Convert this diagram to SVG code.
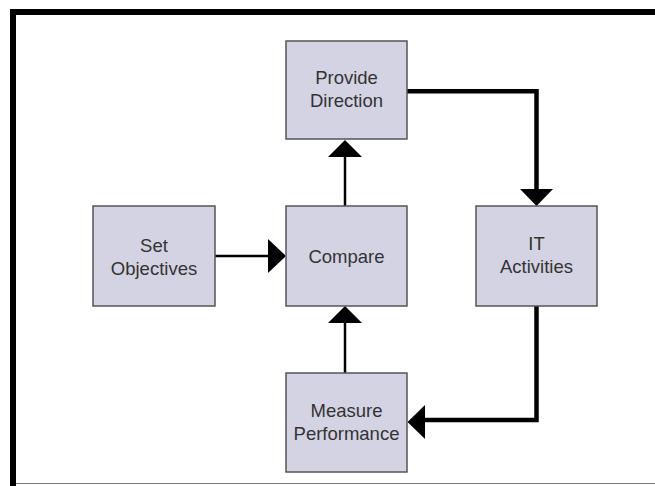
<svg xmlns="http://www.w3.org/2000/svg" width="655" height="486" viewBox="0 0 655 486">
  <style>
    .node rect { fill: #d3d3e3; stroke: #555; stroke-width: 1.5; }
    .node text { font-family: "Liberation Sans", Arial, sans-serif; font-size: 18.5px; fill: #333; text-anchor: middle; }
    .thin { fill: none; stroke: #000; stroke-width: 2.5; }
    .thick { fill: none; stroke: #000; stroke-width: 4.5; stroke-linejoin: miter; }
    .head { fill: #000; }
  </style>
  <rect x="0" y="0" width="655" height="486" fill="#fff"/>
  <g id="frame">
    <rect x="10" y="9" width="6" height="477" fill="#000"/>
    <rect x="10" y="9" width="645" height="6" fill="#000"/>
    <line x1="16" y1="483.5" x2="655" y2="483.5" stroke="#777" stroke-width="1.2"/>
  </g>
  <g id="connectors">
    <line class="thin" x1="345" y1="206" x2="345" y2="155"/>
    <polygon class="head" points="345,140 328,157 362,157"/>
    <line class="thin" x1="215" y1="256" x2="270" y2="256"/>
    <polygon class="head" points="286,256 268,239 268,273"/>
    <line class="thin" x1="345" y1="373" x2="345" y2="321"/>
    <polygon class="head" points="345,306 328,323 362,323"/>
    <polyline class="thick" points="407,91.2 536.5,91.2 536.5,191"/>
    <polygon class="head" points="536.5,206 520,189 553,189"/>
    <polyline class="thick" points="536.5,306 536.5,420 423,420"/>
    <polygon class="head" points="407.5,422 425,405 425,439"/>
  </g>
  <g id="provide-direction" class="node">
    <rect x="286" y="41" width="121" height="98"/>
    <text x="346.5" y="84">Provide</text>
    <text x="346.5" y="106.7">Direction</text>
  </g>
  <g id="set-objectives" class="node">
    <rect x="93" y="206" width="122" height="100"/>
    <text x="154" y="251.7">Set</text>
    <text x="154" y="275">Objectives</text>
  </g>
  <g id="compare" class="node">
    <rect x="286" y="206" width="121" height="100"/>
    <text x="346.5" y="263.3">Compare</text>
  </g>
  <g id="it-activities" class="node">
    <rect x="476" y="206" width="121" height="100"/>
    <text x="536.5" y="250">IT</text>
    <text x="536.5" y="273.3">Activities</text>
  </g>
  <g id="measure-performance" class="node">
    <rect x="286" y="373" width="121" height="99"/>
    <text x="346.5" y="416.7">Measure</text>
    <text x="346.5" y="440">Performance</text>
  </g>
</svg>
